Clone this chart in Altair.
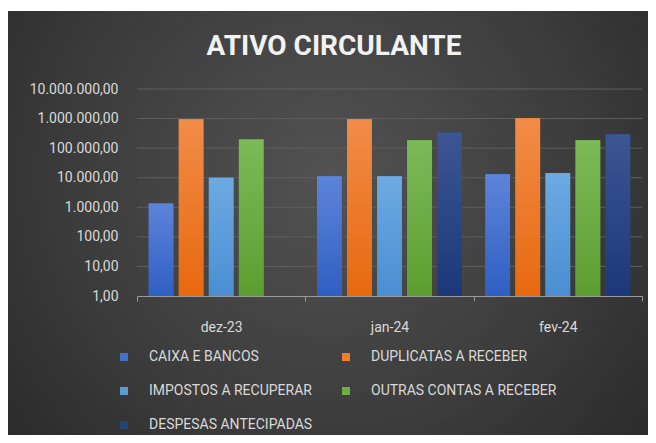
import altair as alt
import pandas as pd

meses = ["dez-23", "jan-24", "fev-24"]
series = ["CAIXA E BANCOS", "DUPLICATAS A RECEBER", "IMPOSTOS A RECUPERAR",
          "OUTRAS CONTAS A RECEBER", "DESPESAS ANTECIPADAS"]
caixa = [1350, 11300, 13200]
duplicatas = [940000, 950000, 1030000]
impostos = [10000, 11300, 14400]
outras = [196000, 186000, 186000]
despesas = [None, 340000, 297000]
ticks = [1, 10, 100, 1000, 10000, 100000, 1000000, 10000000]
titulo = "ATIVO CIRCULANTE"

colors = ["#4472C4", "#ED7D31", "#5B9BD5", "#70AD47", "#264478"]
top_colors = ["#5d84da", "#f28c48", "#6eaae2", "#7cba58", "#3b5692"]
bottom_colors = ["#2f5fc2", "#e8690f", "#4a8ed2", "#5c9e2f", "#1d3878"]

# legend is laid out column by column: order so that it reads row by row
legend_order = [0, 2, 4, 1, 3]
legend_domain = [series[i] for i in legend_order]
legend_range = [colors[i] for i in legend_order]

rows = []
for name, vals in zip(series, [caixa, duplicatas, impostos, outras, despesas]):
    for m, v in zip(meses, vals):
        if v is not None:
            rows.append({"mes": m, "serie": name, "valor": v})
df = pd.DataFrame(rows)

FONT = "Roboto"
LABEL = "#d9d9d9"

x_enc = alt.X("mes:N", sort=meses,
              scale=alt.Scale(domain=meses, paddingInner=0, paddingOuter=0),
              axis=alt.Axis(title=None, labelAngle=0, labelFont=FONT, labelFontSize=14,
                            labelColor=LABEL, labelPadding=19, domainColor="#9a9a9a",
                            tickColor="#9a9a9a", tickSize=5, tickBand="extent",
                            grid=False, zindex=1))
xo_enc = alt.XOffset("serie:N", sort=series,
                     scale=alt.Scale(domain=series, paddingInner=0.18, paddingOuter=0.39))
label_expr = ("replace(replace(replace(format(datum.value, ',.2f'), regexp(',', 'g'), '#'), "
              "regexp('[.]', 'g'), ','), regexp('#', 'g'), '.')")
y_enc = alt.Y("valor:Q",
              scale=alt.Scale(type="log", domain=[1, 10000000], nice=False),
              axis=alt.Axis(title=None, values=ticks, labelExpr=label_expr, grid=False,
                            domain=False, ticks=False, labelFont=FONT, labelFontSize=14,
                            labelColor=LABEL, labelPadding=19, zindex=1))

bg = alt.Chart(alt.Data(values=[{}])).mark_rect(
    color={"gradient": "radial", "x1": 0.5, "y1": 0.42, "r1": 0,
           "x2": 0.5, "y2": 0.42, "r2": 0.72,
           "stops": [{"offset": 0, "color": "#525252"},
                     {"offset": 0.55, "color": "#3c3c3c"},
                     {"offset": 1, "color": "#262626"}]}
).encode(x=alt.value(-129), x2=alt.value(511), y=alt.value(-78), y2=alt.value(354))

title = alt.Chart(alt.Data(values=[{"t": titulo}])).mark_text(
    font=FONT, fontSize=28, fontWeight="bold", color="#f2f2f2",
    align="center", baseline="middle"
).encode(text="t:N", x=alt.value(197), y=alt.value(-42))

grid = alt.Chart(pd.DataFrame({"valor": ticks[1:]})).mark_rule(
    color="#5e5e5e", strokeWidth=1).encode(y=y_enc)

base = alt.Chart(df).mark_bar().encode(
    x=x_enc, xOffset=xo_enc, y=y_enc, y2=alt.datum(1),
    color=alt.Color("serie:N",
                    scale=alt.Scale(domain=legend_domain, range=legend_range),
                    legend=alt.Legend(title=None, orient="none", legendX=-20, legendY=261,
                                      columns=2, symbolType="square", symbolSize=64,
                                      symbolStrokeWidth=0, labelFont=FONT, labelFontSize=14,
                                      labelColor=LABEL, labelOffset=18, columnPadding=26,
                                      rowPadding=20, padding=0, labelLimit=0, zindex=1))
)

layers = [bg, title, grid, base]
for name, tc, bc in zip(series, top_colors, bottom_colors):
    layers.append(
        alt.Chart(df).transform_filter(alt.datum.serie == name).mark_bar(
            color={"gradient": "linear", "x1": 0, "y1": 0, "x2": 0, "y2": 1,
                   "stops": [{"offset": 0, "color": tc}, {"offset": 1, "color": bc}]}
        ).encode(x=x_enc, xOffset=xo_enc, y=y_enc, y2=alt.datum(1))
    )

chart = alt.layer(*layers).properties(
    width=505, height=207,
    autosize=alt.AutoSizeParams(type="none"),
    padding={"left": 129, "top": 81, "right": 6, "bottom": 139},
    background="white",
).configure_view(stroke=None)

chart.save("out.html", embed_options={"renderer": "svg", "actions": False})
